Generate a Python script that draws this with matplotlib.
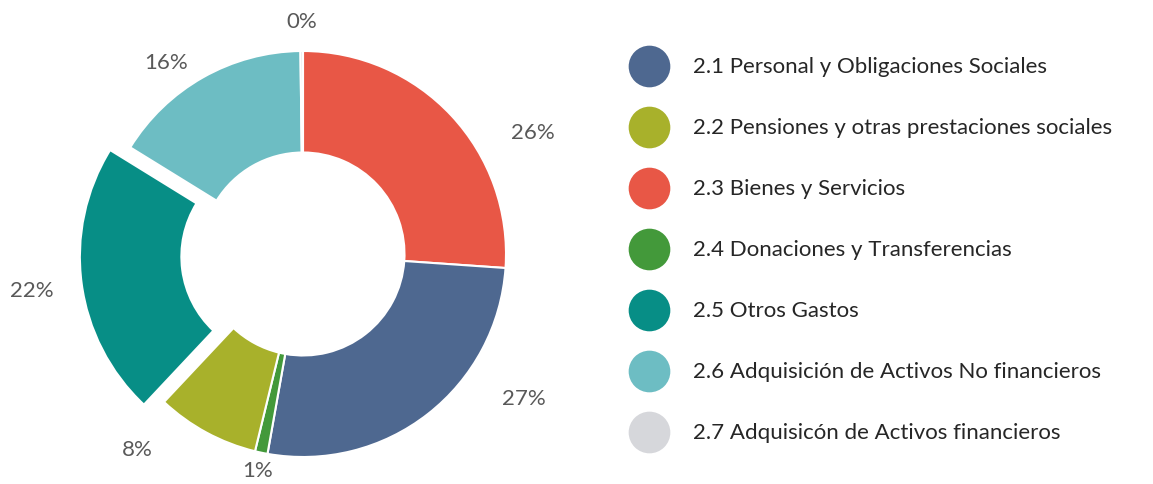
import numpy as np
import matplotlib.pyplot as plt
from matplotlib.lines import Line2D

plt.rcParams['font.family'] = ['Lato', 'DejaVu Sans']

# Categories in legend order
categories = [
    "2.1 Personal y Obligaciones Sociales",
    "2.2 Pensiones y otras prestaciones sociales",
    "2.3 Bienes y Servicios",
    "2.4 Donaciones y Transferencias",
    "2.5 Otros Gastos",
    "2.6 Adquisición de Activos No financieros",
    "2.7 Adquisicón de Activos financieros",
]
shares = [26.7, 8.2, 26.1, 1.0, 21.8, 16.0, 0.2]
colors = ["#4e6890", "#a8b12b", "#e85746", "#43993a", "#078e86", "#6dbdc3", "#d6d7db"]
# clockwise order of the slices starting at 12 o'clock
draw_order = [2, 0, 3, 1, 4, 5, 6]
exploded = 4

# label placement (per slice, in draw order): distance from center and angle nudge
lbl_dist = [1.28, 1.30, 1.085, 1.26, 1.35, 1.16, 1.15]
lbl_nudge = [15, -19, 0, 12, 0, -6, 0]

fig = plt.figure(figsize=(11.53, 4.85), dpi=100)

# donut: center at (303, 255) px, outer radius 203 px
R = 203
ax = fig.add_axes([0, 0, 606 / 1153, 1])
vals = [shares[i] for i in draw_order]
cols = [colors[i] for i in draw_order]
expl = [0.1 if i == exploded else 0 for i in draw_order]
wedges, texts, autotexts = ax.pie(
    vals, colors=cols, explode=expl, startangle=90, counterclock=False,
    radius=1, autopct=lambda p: f"{p:.0f}%", pctdistance=1.2,
    wedgeprops=dict(width=0.5, edgecolor="white", linewidth=1.5),
    textprops=dict(color="#595959", fontsize=16),
)
for w, t, d, n in zip(wedges, autotexts, lbl_dist, lbl_nudge):
    mid = np.deg2rad((w.theta1 + w.theta2) / 2 - n)
    t.set_position((d * np.cos(mid), d * np.sin(mid)))
    t.set_ha("center")
    t.set_va("center")
ax.set_aspect("auto")
ax.set_xlim(-303 / R, 303 / R)
ax.set_ylim(-230 / R, 255 / R)
ax.axis("off")

# legend drawn as circles and text in pixel coordinates
lax = fig.add_axes([0, 0, 1, 1])
lax.set_xlim(0, 1153)
lax.set_ylim(485, 0)
lax.axis("off")
for i, (lab, c) in enumerate(zip(categories, colors)):
    y = 67 + 61 * i
    lax.add_line(Line2D([649], [y], marker="o", markersize=30, color=c, markeredgewidth=0))
    lax.text(693, y, lab, va="center", ha="left", fontsize=16, color="#262626")

fig.savefig("out.png", dpi=100)
